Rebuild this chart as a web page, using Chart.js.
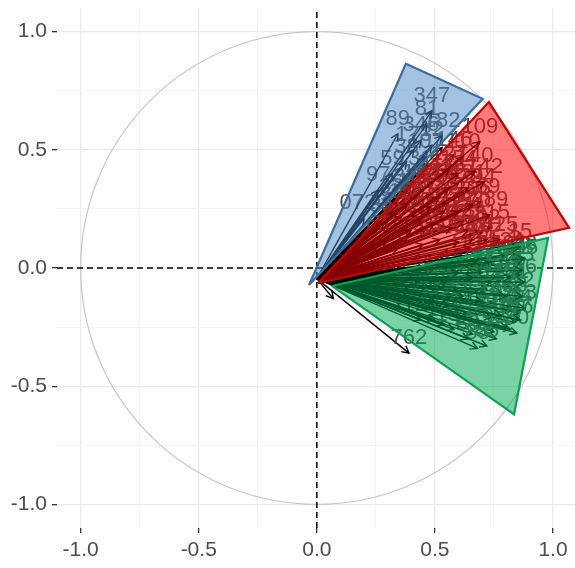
<!DOCTYPE html>
<html>
<head>
<meta charset="utf-8">
<script src="https://cdn.jsdelivr.net/npm/chart.js@4.4.1/dist/chart.umd.min.js"></script>
<style>
  html, body { margin: 0; padding: 0; background: #fff; }
  #wrap { width: 575px; height: 568px; }
</style>
</head>
<body>
<div id="wrap"><canvas id="pca"></canvas></div>
<script>
'use strict';

// Axis ticks (major carry labels, minor only a grid line)
const tickValues = [-1, -0.5, 0, 0.5, 1];
const tickLabels = ['-1.0', '-0.5', '0.0', '0.5', '1.0'];
const minorValues = [-0.75, -0.25, 0.25, 0.75];

const xMin = -1.1, xMax = 1.093;
const yMin = -1.1, yMax = 1.1;
const circleRadius = 1;

// Common tail of all loading arrows
const arrowOriginX = 0.0;
const arrowOriginY = -0.045;

// Cluster 1 (blue)
const blueX = [0.487, 0.466, 0.343, 0.530, 0.487, 0.440, 0.410, 0.380, 0.320, 0.260, 0.200, 0.460];
const blueY = [0.665, 0.610, 0.568, 0.560, 0.520, 0.540, 0.500, 0.450, 0.400, 0.330, 0.210, 0.470];
const blueLabels = ['347', '81', '89', '182', '12', '346', '173', '38', '59', '97', '0722', '107'];

// Cluster 2 (red)
const redX = [0.690, 0.670, 0.710, 0.733, 0.775, 0.650, 0.620, 0.600, 0.640, 0.560, 0.560, 0.520,
  0.660, 0.700, 0.600, 0.540, 0.480, 0.440, 0.500, 0.570, 0.640, 0.700, 0.740, 0.600, 0.520,
  0.400, 0.360, 0.300, 0.340, 0.450, 0.420, 0.380, 0.620, 0.500, 0.580,
  0.280, 0.320, 0.260, 0.380, 0.420, 0.460, 0.480, 0.440, 0.540, 0.580, 0.620,
  0.660, 0.560, 0.520, 0.660, 0.720, 0.680, 0.600, 0.460, 0.400, 0.340, 0.300];
const redY = [0.534, 0.410, 0.365, 0.225, 0.120, 0.085, 0.470, 0.400, 0.340, 0.420, 0.340, 0.300,
  0.270, 0.280, 0.240, 0.240, 0.260, 0.200, 0.190, 0.170, 0.160, 0.150, 0.170, 0.110, 0.120,
  0.160, 0.220, 0.120, 0.080, 0.100, 0.300, 0.260, 0.320, 0.380, 0.480,
  0.180, 0.240, 0.100, 0.120, 0.220, 0.160, 0.320, 0.340, 0.180, 0.220, 0.200,
  0.120, 0.280, 0.340, 0.220, 0.120, 0.320, 0.360, 0.400, 0.320, 0.280, 0.200];
const redLabels = ['109', '140', '142', '389', '325', '236', '110', '154', '131', '127', '185', '198',
  '206', '369', '212', '143', '118', '175', '161', '227', '248', '302', '315', '264', '251',
  '133', '104', '77', '95', '289', '126', '150', '172', '137', '146',
  '22', '57', '64', '113', '157', '166', '179', '184', '201', '219', '224',
  '230', '241', '256', '270', '281', '294', '307', '311', '329', '338', '352'];

// Cluster 3 (green)
const greenX = [0.860, 0.880, 0.870, 0.880, 0.870, 0.880, 0.860, 0.847, 0.820, 0.800, 0.830, 0.780,
  0.720, 0.680, 0.750, 0.800, 0.700, 0.760, 0.720, 0.780, 0.740, 0.800, 0.680, 0.660, 0.700,
  0.640, 0.620, 0.580, 0.600, 0.560, 0.520, 0.500, 0.460, 0.820, 0.840, 0.790, 0.860, 0.740,
  0.660, 0.400, 0.360,
  0.840, 0.860, 0.850, 0.840, 0.860, 0.820, 0.760, 0.780, 0.740, 0.700, 0.720, 0.680, 0.640,
  0.640, 0.600, 0.560, 0.540, 0.500, 0.480, 0.440, 0.420, 0.380, 0.820, 0.760, 0.700];
const greenY = [0.090, 0.040, -0.010, -0.060, -0.120, -0.170, -0.220, -0.275, -0.040, -0.120, -0.180, -0.200,
  -0.330, -0.340, -0.270, -0.250, -0.240, -0.160, -0.090, -0.050, 0.020, 0.050, 0.030, -0.040, -0.140,
  -0.200, -0.120, -0.260, -0.020, -0.160, -0.080, -0.220, -0.140, -0.080, -0.230, 0.000, 0.020, -0.210,
  -0.280, -0.100, -0.170,
  0.060, -0.030, -0.080, -0.140, -0.190, -0.260, -0.300, -0.100, -0.060, -0.020, -0.180, -0.100, -0.060,
  -0.300, -0.180, -0.060, -0.240, -0.140, -0.040, -0.220, -0.060, -0.120, 0.020, 0.040, 0.060];
const greenLabels = ['15', '28', '33', '46', '52', '63', '67', '80', '41', '58', '71', '74',
  '85', '88', '93', '97', '101', '105', '111', '116', '121', '124', '129', '135', '139',
  '144', '149', '153', '158', '163', '166', '171', '177', '181', '186', '190', '195', '199',
  '203', '208', '212',
  '2', '5', '9', '18', '24', '31', '36', '43', '49', '54', '61', '69', '76',
  '83', '90', '99', '103', '108', '115', '120', '128', '132', '141', '148', '155'];

// Variables outside every hull
const otherX = [0.390, 0.070, 0.530, 0.470, 0.400, 0.920, 0.800, 0.620];
const otherY = [-0.360, -0.130, 0.510, 0.440, 0.360, 0.115, 0.095, 0.065];
const otherLabels = ['762', '', '', '', '', '', '', ''];

// Convex hulls of the three clusters
const blueHullX = [-0.033, 0.377, 0.702];
const blueHullY = [-0.072, 0.864, 0.716];
const redHullX = [0.005, 0.729, 1.068];
const redHullY = [-0.064, 0.702, 0.170];
const greenHullX = [0.064, 0.979, 0.835];
const greenHullY = [-0.076, 0.127, -0.619];

const textGrey = '#4d4d4d';
const fontFamily = "'Liberation Sans', Arial, sans-serif";

function hullDataset(xs, ys, fillColor, lineColor) {
  const pts = xs.map((x, i) => ({ x, y: ys[i] }));
  pts.push({ x: xs[0], y: ys[0] });
  return {
    data: pts,
    showLine: true,
    fill: 'shape',
    backgroundColor: fillColor,
    borderColor: lineColor,
    borderWidth: 2.2,
    pointRadius: 0,
    tension: 0,
  };
}

function arrowDatasets(xs, ys, labels) {
  return xs.map((x, i) => ({
    data: [{ x: arrowOriginX, y: arrowOriginY }, { x, y: ys[i] }],
    arrowLabel: labels[i],
    isArrow: true,
    showLine: true,
    borderColor: '#000',
    borderWidth: 1.4,
    pointRadius: 0,
  }));
}

function zeroLine(points) {
  return {
    data: points,
    showLine: true,
    borderColor: '#000',
    borderWidth: 1.5,
    borderDash: [6, 4],
    pointRadius: 0,
  };
}

// Thin grey correlation circle
const circlePlugin = {
  id: 'unitCircle',
  beforeDatasetsDraw(chart) {
    const { ctx, scales: { x, y } } = chart;
    const cx = x.getPixelForValue(0);
    const cy = y.getPixelForValue(0);
    const rx = x.getPixelForValue(circleRadius) - cx;
    const ry = cy - y.getPixelForValue(circleRadius);
    ctx.save();
    ctx.strokeStyle = '#c6c6c6';
    ctx.lineWidth = 1.2;
    ctx.beginPath();
    ctx.ellipse(cx, cy, rx, ry, 0, 0, Math.PI * 2);
    ctx.stroke();
    ctx.restore();
  },
};

// Open arrow heads and variable names, drawn right after each arrow line
const arrowPlugin = {
  id: 'arrowHeads',
  afterDatasetDraw(chart, args) {
    const ds = chart.data.datasets[args.index];
    if (!ds.isArrow) return;
    const [a, b] = args.meta.data;
    const { ctx } = chart;
    const ang = Math.atan2(b.y - a.y, b.x - a.x);
    const len = 8;
    const spread = 0.5;
    ctx.save();
    ctx.strokeStyle = '#000';
    ctx.lineWidth = 1.4;
    ctx.beginPath();
    ctx.moveTo(b.x - len * Math.cos(ang - spread), b.y - len * Math.sin(ang - spread));
    ctx.lineTo(b.x, b.y);
    ctx.lineTo(b.x - len * Math.cos(ang + spread), b.y - len * Math.sin(ang + spread));
    ctx.stroke();
    if (ds.arrowLabel) {
      ctx.fillStyle = textGrey;
      ctx.font = `22px ${fontFamily}`;
      ctx.textAlign = 'center';
      ctx.textBaseline = 'middle';
      ctx.fillText(ds.arrowLabel, b.x, b.y - 15);
    }
    ctx.restore();
  },
};

const allTicks = tickValues.concat(minorValues).sort((p, q) => p - q);
const isMajor = (v) => tickValues.some((t) => Math.abs(t - v) < 1e-9);

function axisOptions(min, max, pad) {
  return {
    type: 'linear',
    min,
    max,
    afterBuildTicks: (scale) => {
      scale.ticks = allTicks.map((value) => ({ value }));
    },
    border: { display: false },
    grid: {
      color: (c) => (c.tick && isMajor(c.tick.value) ? '#ebebeb' : '#f2f2f2'),
      lineWidth: (c) => (c.tick && isMajor(c.tick.value) ? 1.3 : 0.8),
      tickColor: (c) => (c.tick && isMajor(c.tick.value) ? '#333' : 'rgba(0,0,0,0)'),
      tickLength: 5,
      tickWidth: 1.3,
    },
    ticks: {
      autoSkip: false,
      maxRotation: 0,
      padding: pad,
      color: textGrey,
      font: { family: fontFamily, size: 21 },
      callback: (value) => {
        const i = tickValues.findIndex((t) => Math.abs(t - value) < 1e-9);
        return i >= 0 ? tickLabels[i] : '';
      },
    },
  };
}

// Fixed axis sizes; labels sit well inside the panel so no edge padding is needed
function fixAxis(size, horizontal) {
  return (scale) => {
    if (horizontal) scale.height = size; else scale.width = size;
    scale.paddingTop = 0;
    scale.paddingBottom = 0;
    scale.paddingLeft = 0;
    scale.paddingRight = 0;
  };
}

const xAxis = axisOptions(xMin, xMax, 5);
xAxis.afterFit = fixAxis(40, true);
const yAxis = axisOptions(yMin, yMax, 5);
yAxis.afterFit = fixAxis(57, false);

const datasets = [
  hullDataset(blueHullX, blueHullY, 'rgba(74,136,200,0.5)', '#3b6e9e'),
  hullDataset(redHullX, redHullY, 'rgba(255,0,0,0.52)', '#c80000'),
  hullDataset(greenHullX, greenHullY, 'rgba(0,168,82,0.52)', '#00a651'),
  ...arrowDatasets(blueX, blueY, blueLabels),
  ...arrowDatasets(redX, redY, redLabels),
  ...arrowDatasets(greenX, greenY, greenLabels),
  ...arrowDatasets(otherX, otherY, otherLabels),
  zeroLine([{ x: xMin, y: 0 }, { x: xMax, y: 0 }]),
  zeroLine([{ x: 0, y: yMin }, { x: 0, y: yMax }]),
];

new Chart(document.getElementById('pca'), {
  type: 'scatter',
  data: { datasets },
  options: {
    responsive: true,
    maintainAspectRatio: false,
    animation: false,
    layout: { padding: { top: 8, right: 0, bottom: 0, left: 0 } },
    plugins: {
      legend: { display: false },
      tooltip: { enabled: false },
    },
    scales: { x: xAxis, y: yAxis },
  },
  plugins: [circlePlugin, arrowPlugin],
});
</script>
</body>
</html>
